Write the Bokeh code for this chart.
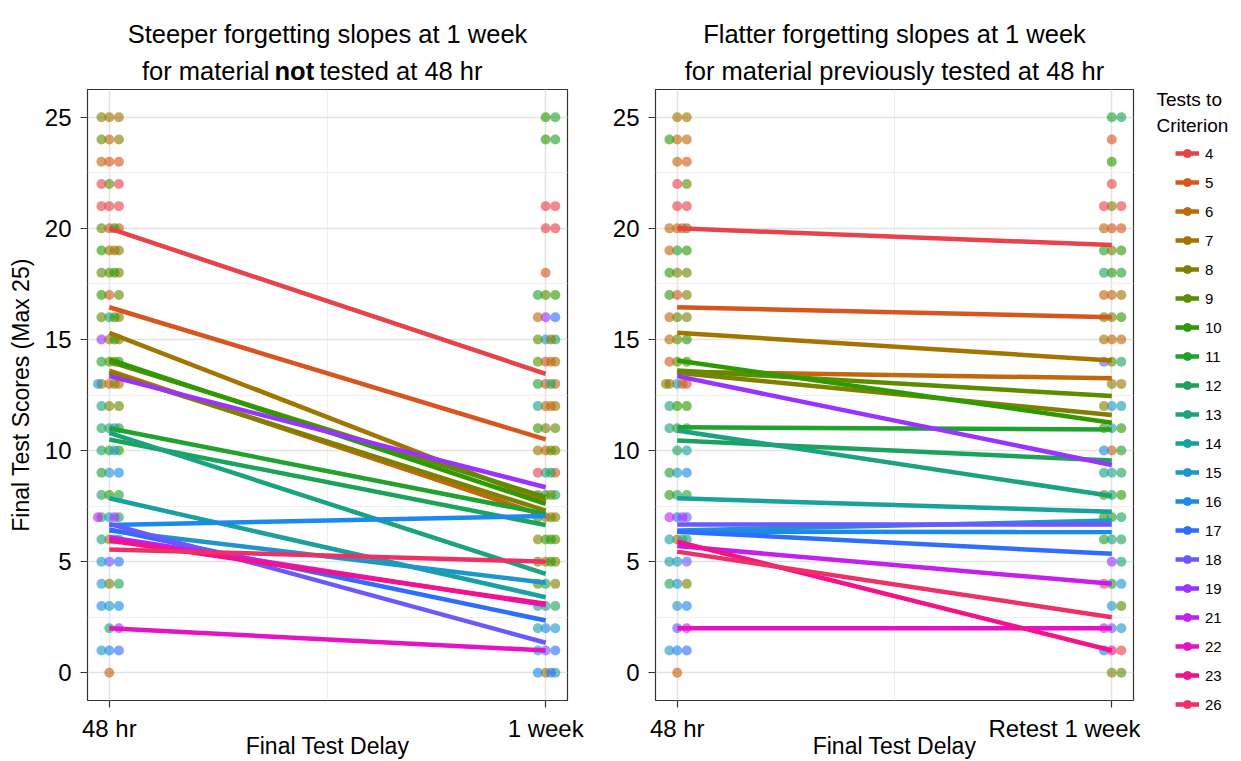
import math
from bokeh.plotting import figure
from bokeh.models import (ColumnDataSource, FixedTicker, Label, Legend,
                          LegendItem, Range1d)
from bokeh.layouts import row, column
from bokeh.embed import file_html
from bokeh.resources import INLINE

# ---------------- data ----------------
groups = [4, 5, 6, 7, 8, 9, 10, 11, 12, 13, 14, 15, 16, 17, 18, 19, 21, 22, 23, 26]
colors = ["#E8424B", "#D9551F", "#C2680C", "#A37400", "#7F8000", "#5D8C00",
          "#2D9A00", "#21A22F", "#1CA35B", "#1BA37F", "#1AA09F", "#1D97C9",
          "#1C88F0", "#2E6DFF", "#6B58FF", "#9A33FF", "#C51FF0", "#E613C6",
          "#F31289", "#EE3066"]

# fitted lines (value at 48 hr, value at 1 week)
left_48hr = [20.0, 16.45, 13.6, 15.3, 13.5, 14.0, 14.1, 11.0, 10.5, 10.8,
             7.85, 6.4, 6.65, 6.45, 6.7, 13.35, 6.1, 2.0, 5.95, 5.55]
left_1week = [13.45, 10.5, 7.05, 7.7, 7.3, 7.9, 7.6, 7.15, 6.65, 4.45,
              3.4, 4.05, 7.05, 2.35, 1.35, 8.35, 3.05, 1.0, 3.1, 5.0]
right_48hr = [20.0, 16.45, 13.55, 15.3, 13.5, 13.6, 14.05, 11.05, 10.45, 10.9,
              7.85, 6.4, 6.35, 6.35, 6.67, 13.35, 5.7, 2.0, 5.9, 5.45]
right_retest = [19.25, 16.0, 13.25, 14.05, 11.6, 12.45, 11.25, 10.95, 9.55, 7.95,
                7.25, 6.85, 6.33, 5.35, 6.67, 9.35, 4.0, 2.0, 1.0, 2.5]

# individual scores: score -> groups (tests to criterion) of the points at that score
left_48hr_points = {
    25: [7, 7, 8], 24: [6, 8, 9], 23: [5, 5, 6], 22: [9, 4, 4], 21: [4, 4, 4],
    20: [5, 6, 9, 10], 19: [7, 8, 10, 7], 18: [9, 8, 9, 10], 17: [5, 9, 10],
    16: [13, 8, 9, 10], 15: [7, 8, 19, 10], 14: [9, 10, 11, 9],
    13: [6, 6, 7, 8, 15], 12: [8, 9, 13], 11: [13, 11, 12, 15],
    10: [11, 10, 12, 15], 9: [15, 16, 11], 8: [10, 11, 12],
    7: [15, 12, 13, 19, 21], 6: [7, 12, 13, 14], 5: [18, 17, 15],
    4: [8, 12, 15], 3: [15, 16, 16], 2: [12, 19], 1: [16, 17, 15], 0: [6],
}
left_1week_points = {
    25: [10, 11], 24: [10, 11], 21: [4, 4], 20: [4, 4], 18: [5],
    17: [9, 10, 11], 16: [19, 17, 6], 15: [15, 12, 9, 8], 14: [5, 7, 9, 6],
    13: [5, 6, 11, 12], 12: [6, 7, 13, 6], 11: [8, 9, 10], 10: [6, 8, 7, 9],
    9: [13, 5, 4, 12], 8: [11, 12, 10, 9], 7: [6, 8, 10, 8], 6: [10, 9, 8, 10],
    5: [7, 8, 9, 10], 4: [12, 8, 9], 3: [13, 12, 14], 2: [16, 15, 14],
    1: [18, 17, 15], 0: [7, 14, 16, 17],
}
right_48hr_points = {
    25: [7, 7], 24: [6, 6, 10], 23: [6, 5], 22: [4, 9], 21: [4, 4],
    20: [6, 9, 6, 5], 19: [11, 10, 6], 18: [8, 9, 10], 17: [5, 8, 10],
    16: [9, 8, 6], 15: [9, 10, 6], 14: [9, 10, 5], 13: [15, 4, 7, 6, 8],
    12: [10, 10, 13], 11: [11, 12, 13], 10: [12, 14], 9: [15, 16, 11],
    8: [12, 11, 10], 7: [17, 18, 21, 19], 6: [7, 13, 14, 13], 5: [15, 18, 14],
    4: [15, 8, 12], 3: [15, 16], 2: [18, 21], 1: [16, 17, 15], 0: [6],
}
right_retest_points = {
    25: [11, 12], 24: [5], 23: [10], 22: [4], 21: [8, 4, 4], 20: [5, 5, 6],
    19: [8, 10, 11], 18: [10, 11, 12], 17: [6, 7, 6], 16: [8, 10, 9],
    15: [6, 6, 7], 14: [9, 12, 18], 13: [8, 7], 12: [15, 14, 8],
    11: [14, 10, 9], 10: [6, 11, 16], 9: [14, 12, 13], 8: [12, 10, 9],
    7: [11, 12, 10], 6: [13, 12, 11], 5: [19, 13], 4: [11, 15, 4],
    3: [15, 9], 2: [18, 15, 21], 1: [23, 4, 16], 0: [8, 9],
}

left_ticks = {1: "48 hr", 2: "1 week"}
right_ticks = {1: "48 hr", 2: "Retest 1 week"}
y_ticks = [0, 5, 10, 15, 20, 25]

# ---------------- style ----------------
FONT = "Liberation Sans"
JITTER = [0.0, 0.022, -0.018, 0.012, -0.026, 0.03]
color_of = dict(zip(groups, colors))
LW = 4.5

TOP_H = 89       # title strip height
PLOT_H = 672     # panel figure height
FRAME_H = 614


def blank_fig(width, height, x_range=(0, 1), y_range=(0, 1)):
    f = figure(width=width, height=height, x_range=Range1d(*x_range),
               y_range=Range1d(*y_range),
               x_axis_type=None, y_axis_type=None, output_backend="svg",
               toolbar_location=None, min_border=0)
    f.min_border_left = 0
    f.min_border_right = 0
    f.min_border_top = 0
    f.min_border_bottom = 0
    f.outline_line_color = None
    f.grid.visible = False
    f.background_fill_color = "white"
    f.border_fill_color = "white"
    return f


def lab(p, x, y, text, size="25px", align="center", style="normal"):
    p.add_layout(Label(x=x, y=y, x_units="screen", y_units="screen", text=text,
                       text_font=FONT, text_font_size=size, text_align=align,
                       text_baseline="alphabetic", text_font_style=style,
                       text_color="black"))


def make_fig(width, border_left, border_right, tick_labels, ylabel):
    p = figure(width=width, height=PLOT_H,
               x_range=Range1d(0.95, 2.05), y_range=Range1d(-1.25, 26.25),
               output_backend="svg", toolbar_location=None,
               min_border_left=border_left, min_border_right=border_right,
               min_border_top=0, min_border_bottom=PLOT_H - FRAME_H)
    p.background_fill_color = "white"
    p.border_fill_color = "white"
    p.outline_line_color = "#333333"
    p.outline_line_width = 1.2

    xt = FixedTicker(ticks=[1, 2], minor_ticks=[1.5])
    yt = FixedTicker(ticks=y_ticks, minor_ticks=[2.5, 7.5, 12.5, 17.5, 22.5])
    p.xaxis.ticker = xt
    p.yaxis.ticker = yt
    p.xgrid.ticker = xt
    p.ygrid.ticker = yt
    p.xaxis.major_label_overrides = tick_labels
    for g in (p.xgrid, p.ygrid):
        g.grid_line_color = "#E3E3E3"
        g.grid_line_width = 1.6
        g.minor_grid_line_color = "#EDEDED"
        g.minor_grid_line_width = 0.9
    for ax in (p.xaxis, p.yaxis):
        ax.axis_line_color = None
        ax.major_tick_line_color = "#333333"
        ax.major_tick_line_width = 1.2
        ax.major_tick_out = 7
        ax.major_tick_in = 0
        ax.minor_tick_line_color = None
        ax.major_label_text_font = FONT
        ax.major_label_text_font_size = "24px"
        ax.major_label_text_color = "black"
        ax.axis_label_text_font = FONT
        ax.axis_label_text_font_size = "23px"
        ax.axis_label_text_font_style = "normal"
        ax.axis_label_text_color = "black"
    p.xaxis.major_label_standoff = 7
    p.yaxis.major_label_standoff = 9
    p.xaxis.axis_label = "Final Test Delay"
    p.xaxis.axis_label_standoff = -12
    if ylabel:
        p.yaxis.axis_label = ylabel
        p.yaxis.axis_label_standoff = 8
    return p


def add_points(p, pts, xpos):
    xs, ys, cs = [], [], []
    for score, gl in pts.items():
        for i, g in enumerate(gl):
            xs.append(xpos + JITTER[i % len(JITTER)])
            ys.append(score)
            cs.append(color_of[g])
    src = ColumnDataSource(dict(x=xs, y=ys, c=cs))
    p.scatter("x", "y", source=src, size=10, fill_color="c", line_color="c",
              fill_alpha=0.62, line_alpha=0.0)


def add_lines(p, a, b):
    for i, g in enumerate(groups):
        p.line([1, 2], [a[i], b[i]], line_color=colors[i], line_width=LW)


# ---------------- titles strip ----------------
titles = blank_fig(1140, TOP_H)
lab(titles, 327, TOP_H - 33, "Steeper forgetting slopes at 1 week", size="25.5px")
lab(titles, 269, TOP_H - 70, "for material", align="right", size="25.5px")
lab(titles, 274, TOP_H - 70, "not", align="left", style="bold", size="25.5px")
lab(titles, 319, TOP_H - 70, "tested at 48 hr", align="left", size="25.5px")
lab(titles, 894, TOP_H - 33, "Flatter forgetting slopes at 1 week", size="25.5px")
lab(titles, 894, TOP_H - 70, "for material previously tested at 48 hr", size="25.5px")

# ---------------- left panel ----------------
p1 = make_fig(587, 87, 20, left_ticks, "Final Test Scores (Max 25)")
add_points(p1, left_48hr_points, 1)
add_points(p1, left_1week_points, 2)
add_lines(p1, left_48hr, left_1week)

# ---------------- right panel ----------------
p2 = make_fig(553, 68, 7, right_ticks, None)
add_points(p2, right_48hr_points, 1)
add_points(p2, right_retest_points, 2)
add_lines(p2, right_48hr, right_retest)

# ---------------- legend strip ----------------
# (the key's own copies of the group lines sit outside this strip's visible range,
#  so only their legend glyphs are seen)
H_ALL = TOP_H + PLOT_H
GLYPH_H, SPACING = 20, 9
legend_h = len(groups) * GLYPH_H + (len(groups) - 1) * SPACING
lf = blank_fig(101, H_ALL, x_range=(100, 101), y_range=(100, 101))
items = []
for i, g in enumerate(groups):
    r_line = lf.line([1, 2], [right_48hr[i], right_retest[i]],
                     line_color=colors[i], line_width=LW)
    r_dot = lf.scatter([1, 2], [right_48hr[i], right_retest[i]], size=9,
                       fill_color=colors[i], line_color=colors[i])
    items.append(LegendItem(label=str(g), renderers=[r_line, r_dot]))
legend = Legend(items=items, location=(35, H_ALL - 143 - legend_h),
                glyph_width=24, glyph_height=GLYPH_H,
                label_height=GLYPH_H, spacing=SPACING, padding=0, margin=0,
                border_line_color=None, background_fill_alpha=0.0,
                label_text_font=FONT, label_text_font_size="15px",
                label_standoff=6, label_text_color="black")
lf.add_layout(legend)
lab(lf, 16, H_ALL - 99, "Tests to", size="19px", align="left")
lab(lf, 16, H_ALL - 125, "Criterion", size="19px", align="left")

layout = row(column(titles, row(p1, p2)), lf)
open("out.html", "w").write(file_html(layout, INLINE))
